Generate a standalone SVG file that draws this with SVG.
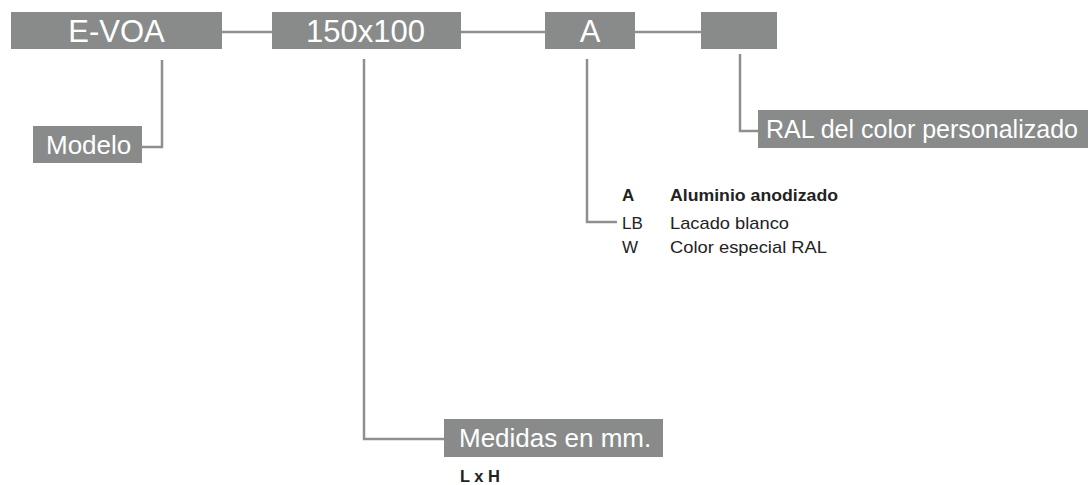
<svg xmlns="http://www.w3.org/2000/svg" width="1088" height="485" viewBox="0 0 1088 485">
<style>
.box{fill:#898b8b}
.lbl{fill:#ffffff;font-family:"Liberation Sans",Arial,sans-serif}
.big{font-size:31px}
.mid{font-size:26px}
.conn{stroke:#8e9090;fill:none;stroke-width:2.5}
.leg{fill:#222222;font-family:"Liberation Sans",Arial,sans-serif;font-size:17px}
.b{font-weight:bold}
</style>
<rect width="1088" height="485" fill="#ffffff"/>
<g id="connectors">
<line class="conn" x1="222" y1="32" x2="272" y2="32"/>
<line class="conn" x1="461" y1="32" x2="545" y2="32"/>
<line class="conn" x1="635" y1="32" x2="701" y2="32"/>
<polyline class="conn" points="162,60 162,147 142,147"/>
<polyline class="conn" points="364,59 364,439 444,439"/>
<polyline class="conn" points="587,59 587,222 617,222"/>
<polyline class="conn" points="740,54 740,131 758,131"/>
</g>
<g id="node-evoa">
<rect class="box" x="11" y="12" width="211" height="37"/>
<text class="lbl big" x="116.5" y="41.5" text-anchor="middle">E-VOA</text>
</g>
<g id="node-size">
<rect class="box" x="272" y="12" width="189" height="37"/>
<text class="lbl big" x="365.5" y="41.5" text-anchor="middle">150x100</text>
</g>
<g id="node-finish">
<rect class="box" x="545" y="12" width="90" height="37"/>
<text class="lbl big" x="590" y="41.5" text-anchor="middle">A</text>
</g>
<g id="node-ral">
<rect class="box" x="701" y="12" width="76" height="37"/>
</g>
<g id="node-modelo">
<rect class="box" x="33" y="126" width="109" height="37"/>
<text class="lbl mid" x="46" y="154">Modelo</text>
</g>
<g id="node-ral-label">
<rect class="box" x="758" y="110" width="330" height="38"/>
<text class="lbl mid" x="766" y="138" textLength="312" lengthAdjust="spacingAndGlyphs">RAL del color personalizado</text>
</g>
<g id="node-medidas">
<rect class="box" x="444" y="419" width="219" height="38"/>
<text class="lbl mid" x="459" y="447">Medidas en mm.</text>
</g>
<g id="legend-finish">
<text class="leg b" x="622" y="201">A</text>
<text class="leg b" x="670" y="201" textLength="168" lengthAdjust="spacingAndGlyphs">Aluminio anodizado</text>
<text class="leg" x="622" y="229">LB</text>
<text class="leg" x="670" y="229" textLength="119" lengthAdjust="spacingAndGlyphs">Lacado blanco</text>
<text class="leg" x="622" y="253">W</text>
<text class="leg" x="670" y="253" textLength="157" lengthAdjust="spacingAndGlyphs">Color especial RAL</text>
</g>
<g id="legend-size">
<text class="leg b" x="460" y="482" textLength="40" lengthAdjust="spacingAndGlyphs">L x H</text>
</g>
</svg>
